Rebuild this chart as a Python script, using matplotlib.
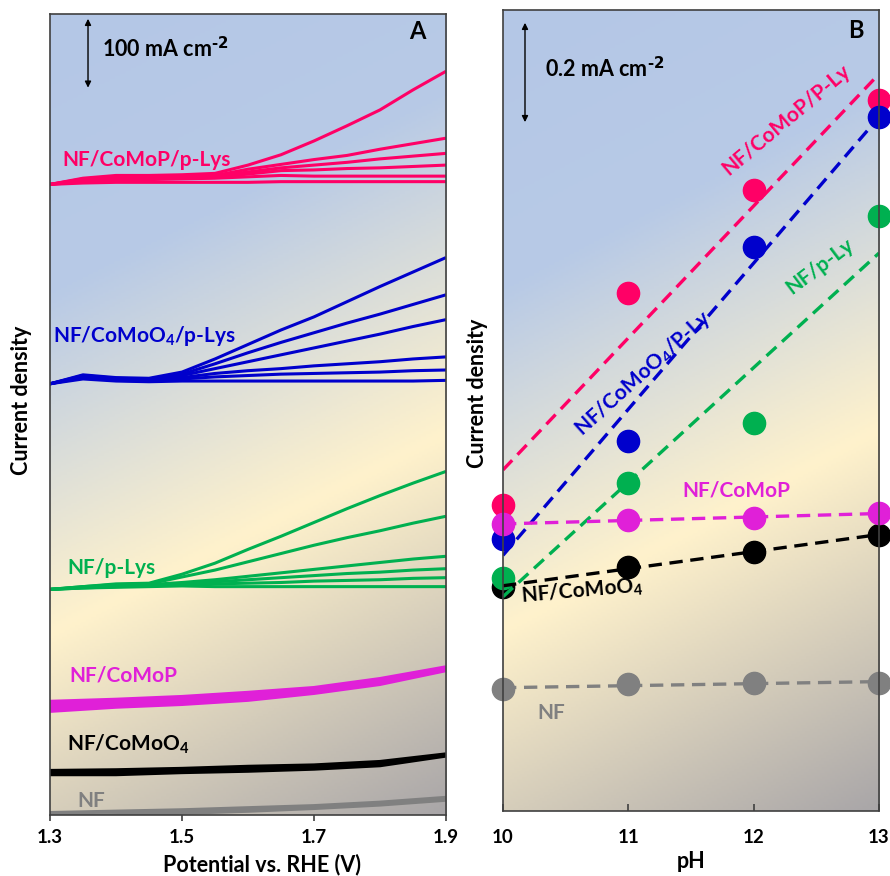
import numpy as np
import matplotlib
matplotlib.use('Agg')
import matplotlib.pyplot as plt   # noqa: E402
from matplotlib.colors import LinearSegmentedColormap   # noqa: E402

plt.rcParams['font.family'] = ['Lato', 'DejaVu Sans']
plt.rcParams['font.weight'] = 'bold'
plt.rcParams['mathtext.default'] = 'regular'

# ---- panel A: LSV traces, current (mA cm-2) above each trace's own baseline
potential = [1.30, 1.35, 1.40, 1.45, 1.50, 1.55, 1.60, 1.65, 1.70, 1.75, 1.80, 1.85, 1.90]
comop_plys = [
    [0, 9, 13, 13, 14, 16, 28, 43, 63, 85, 108, 137, 164],
    [0, 8, 11, 12, 12, 13, 22, 29, 36, 42, 51, 59, 67],
    [0, 7, 10, 10, 11, 12, 18, 24, 28, 32, 37, 41, 45],
    [0, 6, 8, 9, 9, 10, 15, 20, 21, 23, 24, 26, 28],
    [0, 4, 6, 7, 8, 9, 11, 13, 12, 12, 12, 12, 12],
    [0, 2, 3, 3, 3, 3, 3, 4, 4, 4, 4, 4, 4],
]
comoo4_plys = [
    [0, 13, 9, 8, 17, 36, 57, 78, 97, 119, 141, 162, 183],
    [0, 12, 8, 7, 14, 29, 45, 60, 74, 88, 101, 115, 129],
    [0, 11, 7, 6, 12, 22, 32, 42, 52, 62, 72, 83, 93],
    [0, 10, 6, 5, 9, 15, 19, 22, 26, 29, 32, 36, 39],
    [0, 9, 5, 4, 7, 10, 12, 14, 15, 16, 17, 19, 20],
    [0, 7, 4, 3, 4, 4, 4, 4, 4, 4, 4, 4, 5],
]
plys = [
    [0, 4, 8, 9, 22, 38, 58, 77, 97, 117, 136, 154, 171],
    [0, 4, 7, 8, 18, 28, 40, 52, 64, 75, 85, 96, 106],
    [0, 3, 6, 7, 10, 14, 19, 24, 29, 34, 39, 44, 48],
    [0, 3, 5, 6, 8, 11, 14, 17, 20, 23, 25, 28, 30],
    [0, 2, 4, 5, 7, 8, 9, 10, 12, 13, 14, 16, 17],
    [0, 2, 3, 4, 5, 4, 4, 4, 4, 4, 4, 4, 4],
]
potential_coarse = [1.3, 1.4, 1.5, 1.6, 1.7, 1.8, 1.9]
comop = [
    [14, 17, 21, 27, 34, 47, 64],
    [10, 13, 17, 23, 31, 44, 62],
    [5, 10, 14, 20, 29, 42, 61],
    [1, 7, 11, 17, 27, 40, 60],
]
comoo4 = [
    [14, 15, 17, 20, 22, 27, 38],
    [11, 12, 14, 17, 20, 25, 37],
    [9, 9, 12, 14, 17, 22, 36],
]
nf = [
    [3, 5, 7, 10, 13, 18, 25],
    [-2, 0, 3, 6, 10, 15, 22],
]

# ---- panel B: current density vs pH
ph = [10, 11, 12, 13]
j_comop_plys = [0.618, 1.046, 1.255, 1.437]
j_comoo4_plys = [0.549, 0.747, 1.139, 1.402]
j_plys = [0.471, 0.663, 0.784, 1.202]
j_comop = [0.580, 0.588, 0.592, 0.602]
j_comoo4 = [0.453, 0.493, 0.523, 0.558]
j_nf = [0.246, 0.257, 0.259, 0.259]

PINK, BLUE, GREEN = '#FF0066', '#0000CC', '#00B050'
MAGENTA, GREY, SPINE = '#E020D8', '#808080', '#404040'

bg_cmap = LinearSegmentedColormap.from_list(
    'bg', [(0, '#B4C7E7'), (0.28, '#B8CAE6'), (0.62, '#FFF2CC'), (1.0, '#A9A6A8')])


def paint_bg(ax):
    gx, gy = np.meshgrid(np.linspace(0, 1, 300), np.linspace(0, 1, 300))
    s = 0.8 * gy + 0.2 * gx   # gy = 0 at the top edge
    ax.imshow(s, cmap=bg_cmap, vmin=0, vmax=1, extent=(0, 1, 0, 1),
              transform=ax.transAxes, origin='upper', aspect='auto',
              zorder=0, interpolation='bilinear')


def scale_bar(ax, x, y0, y1, label, lx, ly):
    ax.annotate('', xy=(x, y1), xytext=(x, y0), xycoords='axes fraction',
                arrowprops=dict(arrowstyle='<|-|>', lw=1, color='black',
                                mutation_scale=9, shrinkA=0, shrinkB=0))
    ax.text(lx, ly, label, transform=ax.transAxes, fontsize=15.5, color='black')


fig = plt.figure(figsize=(8.9, 8.76), dpi=100)
axA = fig.add_axes([50 / 890, 61 / 876, 396 / 890, 801 / 876])
axB = fig.add_axes([503 / 890, 65 / 876, 376 / 890, 801 / 876])

# ---------------- panel A
paint_bg(axA)
stacks = [
    (comop_plys, potential, 914, PINK, 2.2),
    (comoo4_plys, potential, 625, BLUE, 2.2),
    (plys, potential, 327, GREEN, 2.2),
    (comop, potential_coarse, 150, MAGENTA, 3.0),
    (comoo4, potential_coarse, 50, 'black', 2.8),
    (nf, potential_coarse, 0, GREY, 2.8),
]
for curves, xs, base, col, lw in stacks:
    for c in curves:
        axA.plot(xs, base + np.asarray(c), color=col, lw=lw,
                 solid_capstyle='butt', solid_joinstyle='round', zorder=2)

axA.set_xlim(1.3, 1.9)
axA.set_ylim(0, 1161)
axA.set_xticks([1.3, 1.5, 1.7, 1.9])
axA.set_xticklabels(['1.3', '1.5', '1.7', '1.9'])
axA.set_yticks([])
axA.tick_params(axis='x', direction='out', length=4, width=1.2,
                color=SPINE, labelsize=13.5, pad=6)

labA = [
    ('NF/CoMoP/p-Lys', 1.318, 941, PINK),
    ('NF/CoMoO$_4$/p-Lys', 1.305, 686, BLUE),
    ('NF/p-Lys', 1.326, 349, GREEN),
    ('NF/CoMoP', 1.330, 194, MAGENTA),
    ('NF/CoMoO$_4$', 1.326, 93, 'black'),
    ('NF', 1.341, 12, GREY),
]
for txt, x, y, col in labA:
    axA.text(x, y, txt, color=col, fontsize=15, va='baseline', zorder=3)
axA.text(0.927, 0.969, 'A', transform=axA.transAxes, fontsize=17,
         ha='center', va='baseline')
scale_bar(axA, 0.096, 0.908, 0.994, r'100 mA cm$^{\text{-2}}$', 0.131, 0.946)

# ---------------- panel B
paint_bg(axB)
series = [
    (j_nf, GREY), (j_comoo4, 'black'), (j_plys, GREEN),
    (j_comop_plys, PINK), (j_comoo4_plys, BLUE), (j_comop, MAGENTA),
]
for ys, col in series:
    axB.plot(ph, ys, 'o', color=col, ms=16, clip_on=False, zorder=3)
for ys, col in series:
    k, b = np.polyfit(ph, ys, 1)
    xx = np.array([10, 13])
    axB.plot(xx, k * xx + b, color=col, lw=2.4, dashes=(4, 2.3),
             clip_on=True, zorder=4)

axB.set_xlim(10, 13)
axB.set_ylim(0, 801 / 495)
axB.set_xticks(ph)
axB.set_xticklabels([str(p) for p in ph])
axB.set_yticks([])
axB.tick_params(axis='x', direction='in', length=5, width=1.2,
                color=SPINE, labelsize=13.5, pad=13)

labB = [
    ('NF/CoMoP/P-Ly', 12.258, 1.396, PINK, 40),
    ('NF/CoMoO$_4$/P-Ly', 11.117, 0.885, BLUE, 42),
    ('NF/p-Ly', 12.53, 1.101, GREEN, 37),
    ('NF/CoMoO$_4$', 10.63, 0.444, 'black', 5),
]
for txt, x, y, col, rot in labB:
    axB.text(x, y, txt, color=col, fontsize=15, rotation=rot,
             ha='center', va='center', rotation_mode='anchor', zorder=5)
axB.text(11.428, 0.636, 'NF/CoMoP', color=MAGENTA, fontsize=15,
         va='baseline', zorder=5)
axB.text(10.271, 0.186, 'NF', color=GREY, fontsize=15, va='baseline', zorder=5)
axB.text(0.939, 0.965, 'B', transform=axB.transAxes, fontsize=17,
         ha='center', va='baseline')
scale_bar(axB, 0.0585, 0.860, 0.984, r'0.2 mA cm$^{\text{-2}}$', 0.112, 0.916)

for ax in (axA, axB):
    for sp in ax.spines.values():
        sp.set_color(SPINE)
        sp.set_linewidth(1.2)
        sp.set_zorder(6)

fig.text(22 / 890, 1 - 400 / 876, 'Current density', rotation=90,
         ha='center', va='center', fontsize=15.5)
fig.text(478 / 890, 1 - 393 / 876, 'Current density', rotation=90,
         ha='center', va='center', fontsize=15.5)
fig.text(262 / 890, 1 - 865 / 876, 'Potential vs. RHE (V)',
         ha='center', va='center', fontsize=15.5)
fig.text(691 / 890, 1 - 862 / 876, 'pH', ha='center', va='center', fontsize=15.5)

fig.savefig('out.png', dpi=100)
